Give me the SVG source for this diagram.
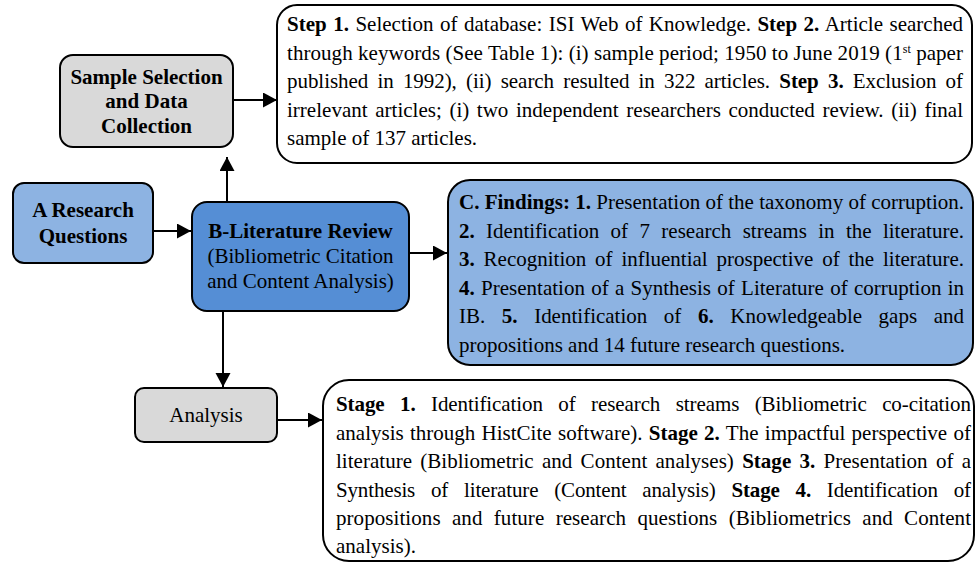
<svg xmlns="http://www.w3.org/2000/svg" width="975" height="563" viewBox="0 0 975 563">
<style>
  text { font-family: "Liberation Serif", "Times New Roman", serif; font-size: 21px; fill: #000; }
  .b { font-weight: bold; }
  .box { stroke: #000; stroke-width: 2; }
  .gray { fill: #d9d9d9; }
  .light { fill: #8db3e2; }
  .dark { fill: #558ed5; }
  .white { fill: #fff; }
  .conn { stroke: #000; stroke-width: 2; fill: none; marker-end: url(#ah); }
  .c { text-anchor: middle; }
</style>
<defs>
  <marker id="ah" markerUnits="userSpaceOnUse" markerWidth="15" markerHeight="16" refX="14" refY="7.5" orient="auto">
    <path d="M0,0 L14,7.5 L0,15 z" fill="#000"/>
  </marker>
</defs>
<rect width="975" height="563" fill="#fff"/>

<g id="connectors">
  <line class="conn" x1="233" y1="100" x2="277" y2="100"/>
  <line class="conn" x1="227" y1="202" x2="227" y2="157"/>
  <line class="conn" x1="153" y1="231" x2="191" y2="231"/>
  <line class="conn" x1="409" y1="253" x2="447" y2="253"/>
  <line class="conn" x1="223" y1="311" x2="223" y2="387"/>
  <line class="conn" x1="277" y1="420" x2="322" y2="420"/>
</g>

<g id="sample">
  <rect class="box gray" x="60" y="55" width="173" height="92" rx="13"/>
  <text class="b c" x="146.5" y="84">Sample Selection</text>
  <text class="b c" x="146.5" y="108">and Data</text>
  <text class="b c" x="146.5" y="133">Collection</text>
</g>

<g id="steps">
  <rect class="box white" x="277" y="5" width="695" height="158" rx="20"/>
  <text x="287" y="31" word-spacing="1.2" textLength="676" lengthAdjust="spacing"><tspan class="b">Step 1.</tspan> Selection of database: ISI Web of Knowledge. <tspan class="b">Step 2.</tspan> Article searched</text>
  <text x="287" y="59.5" textLength="676" lengthAdjust="spacing">through keywords (See Table 1): (i) sample period; 1950 to June 2019 (1<tspan font-size="12" dy="-7">st</tspan><tspan dy="7"> paper</tspan></text>
  <text x="287" y="88" word-spacing="4" textLength="676" lengthAdjust="spacing">published in 1992), (ii) search resulted in 322 articles. <tspan class="b">Step 3.</tspan> Exclusion of</text>
  <text x="287" y="116.5" word-spacing="2.3" textLength="676" lengthAdjust="spacing">irrelevant articles; (i) two independent researchers conducted review. (ii) final</text>
  <text x="287" y="145">sample of 137 articles.</text>
</g>

<g id="research-questions">
  <rect class="box light" x="13" y="183" width="140" height="80" rx="11"/>
  <text class="b c" x="83" y="217">A Research</text>
  <text class="b c" x="83" y="243">Questions</text>
</g>

<g id="literature-review">
  <rect class="box dark" x="192" y="202" width="217" height="109" rx="15"/>
  <text class="b c" x="300.5" y="238">B-Literature Review</text>
  <text class="c" x="300.5" y="263">(Bibliometric Citation</text>
  <text class="c" x="300.5" y="288">and Content Analysis)</text>
</g>

<g id="findings">
  <rect class="box light" x="448" y="180" width="525" height="185" rx="22"/>
  <text x="459" y="209" textLength="505" lengthAdjust="spacing"><tspan class="b">C. Findings: 1.</tspan> Presentation of the taxonomy of corruption.</text>
  <text x="459" y="237.5" word-spacing="6.1" textLength="505" lengthAdjust="spacing"><tspan class="b">2.</tspan> Identification of 7 research streams in the literature.</text>
  <text x="459" y="266" word-spacing="3.6" textLength="505" lengthAdjust="spacing"><tspan class="b">3.</tspan> Recognition of influential prospective of the literature.</text>
  <text x="459" y="294.5" word-spacing="1" textLength="505" lengthAdjust="spacing"><tspan class="b">4.</tspan> Presentation of a Synthesis of Literature of corruption in</text>
  <text x="459" y="323" word-spacing="11.3" textLength="505" lengthAdjust="spacing">IB. <tspan class="b">5.</tspan> Identification of <tspan class="b">6.</tspan> Knowledgeable gaps and</text>
  <text x="459" y="351.5">propositions and 14 future research questions.</text>
</g>

<g id="analysis">
  <rect class="box gray" x="135" y="388" width="142" height="54" rx="9"/>
  <text class="c" x="206" y="422">Analysis</text>
</g>

<g id="stages">
  <rect class="box white" x="323" y="380" width="651" height="181" rx="26"/>
  <text x="336" y="411" word-spacing="10.3" textLength="635" lengthAdjust="spacing"><tspan class="b">Stage 1.</tspan> Identification of research streams (Bibliometric co-citation</text>
  <text x="336" y="439.5" word-spacing="1.1" textLength="635" lengthAdjust="spacing">analysis through HistCite software). <tspan class="b">Stage 2.</tspan> The impactful perspective of</text>
  <text x="336" y="468" word-spacing="3" textLength="635" lengthAdjust="spacing">literature (Bibliometric and Content analyses) <tspan class="b">Stage 3.</tspan> Presentation of a</text>
  <text x="336" y="496.5" word-spacing="10.8" textLength="635" lengthAdjust="spacing">Synthesis of literature (Content analysis) <tspan class="b">Stage 4.</tspan> Identification of</text>
  <text x="336" y="525" word-spacing="6" textLength="635" lengthAdjust="spacing">propositions and future research questions (Bibliometrics and Content</text>
  <text x="336" y="553">analysis).</text>
</g>
</svg>
